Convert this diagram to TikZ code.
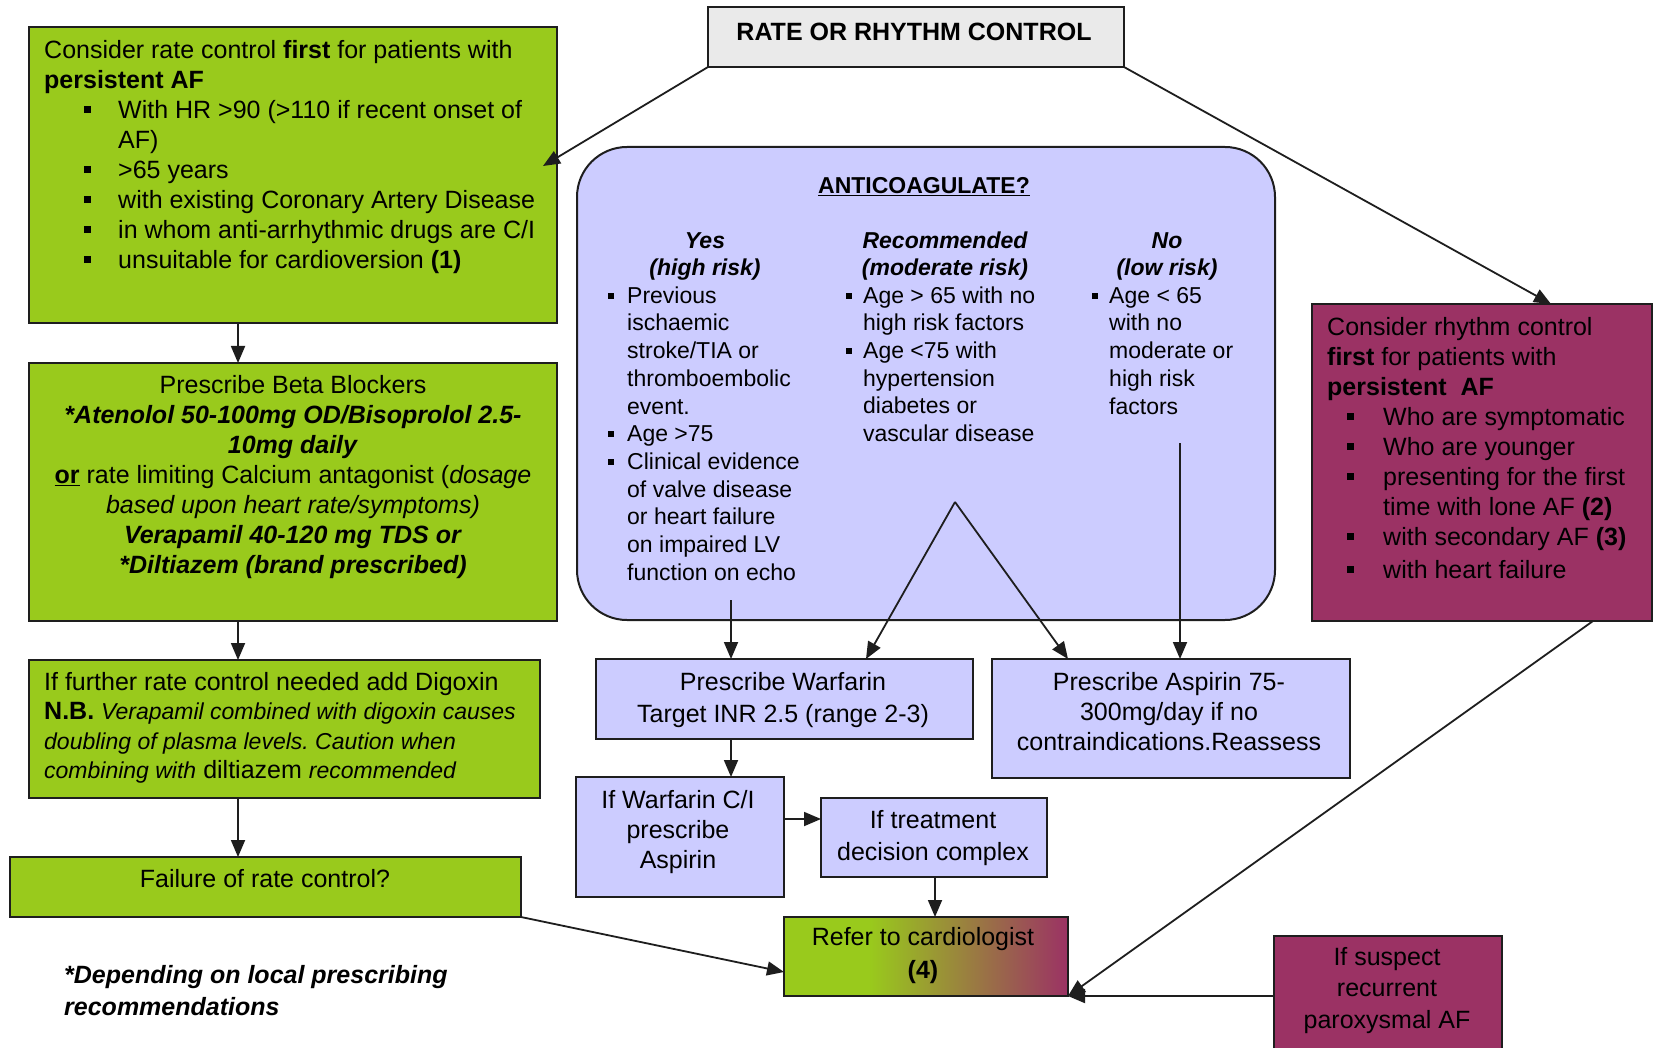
\documentclass[tikz,border=0pt]{standalone}
\usepackage{fontspec}
\setmainfont{Liberation Sans}
\usetikzlibrary{arrows.meta}
\frenchspacing
\definecolor{gfill}{RGB}{153,202,28}
\definecolor{pfill}{RGB}{155,50,100}
\definecolor{lfill}{RGB}{204,204,255}
\definecolor{tfill}{RGB}{234,234,234}
\definecolor{edge}{RGB}{30,30,30}
\pgfdeclarehorizontalshading{refshade}{100bp}{color(0bp)=(gfill); color(25bp)=(gfill); color(40bp)=(gfill); color(75bp)=(pfill); color(100bp)=(pfill)}
\newcommand\fl{\rule{0pt}{20pt}}
\newcommand\bA{\makebox[74pt][l]{\hspace*{40pt}\rule[5pt]{7pt}{7pt}}}
\newcommand\bP{\makebox[56pt][l]{\hspace*{20pt}\rule[5pt]{7pt}{7pt}}}
\newcommand\bL{\makebox[19pt][l]{\rule[4.5pt]{6pt}{6pt}}}
\newcommand\bM{\makebox[17pt][l]{\rule[4.5pt]{6pt}{6pt}}}
\newcommand\sit[1]{{\fontsize{23}{29.5}\selectfont\itshape #1}}
\tikzset{
  bx/.style={draw=edge, line width=2pt, inner sep=0pt, outer sep=0pt},
  gbox/.style={bx, fill=gfill},
  pbox/.style={bx, fill=pfill},
  lbox/.style={bx, fill=lfill},
  tx/.style={inner sep=0pt, align=left, font=\fontsize{25}{30}\selectfont},
  txc/.style={inner sep=0pt, align=center, font=\fontsize{25}{30}\selectfont},
  sm/.style={inner sep=0pt, align=left, font=\fontsize{23}{27.7}\selectfont},
  arr/.style={draw=edge, line width=1.8pt, -{Triangle[length=17pt,width=14pt]}},
}
\begin{document}
\begin{tikzpicture}[x=1pt,y=-1pt]
\useasboundingbox (0,0) rectangle (1654,1048);
\clip (0,0) rectangle (1654,1048);
\fill[white] (0,0) rectangle (1654,1048);
% boxes
\node[bx, fill=tfill, minimum width=416pt, minimum height=60pt] (title) at (916,37) {};
\node[gbox, minimum width=528pt, minimum height=296pt] (g1) at (293,175) {};
\node[gbox, minimum width=528pt, minimum height=258pt] (g2) at (293,492) {};
\node[gbox, minimum width=511pt, minimum height=138pt] (g3) at (284.5,729) {};
\node[gbox, minimum width=511pt, minimum height=60pt] (g4) at (265.5,887) {};
\node[lbox, rounded corners=50pt, minimum width=698pt, minimum height=473pt] (ac) at (926,383.5) {};
\node[lbox, minimum width=377pt, minimum height=80pt] (warf) at (784.5,699) {};
\node[lbox, minimum width=358pt, minimum height=119pt] (asp) at (1171,718.5) {};
\node[lbox, minimum width=208pt, minimum height=120pt] (ifw) at (680,837) {};
\node[lbox, minimum width=226pt, minimum height=79pt] (treat) at (934,837.5) {};
\node[bx, shading=refshade, minimum width=284pt, minimum height=79pt] (refer) at (926,956.5) {};
\node[pbox, minimum width=340pt, minimum height=317pt] (rhythm) at (1482,462.5) {};
\node[pbox, minimum width=228pt, minimum height=124pt] (sus) at (1388,998) {};
% texts
\node[txc, anchor=north, font=\bfseries\fontsize{25}{30}\selectfont] (titlet) at (914,20) {\fl RATE OR RHYTHM CONTROL};
\node[tx, anchor=north west] (g1t) at (44,38) {\fl Consider rate control \textbf{first} for patients with\\
\textbf{persistent AF}\\
\bA With HR >90 (>110 if recent onset of\\
\hspace*{74pt}AF)\\
\bA >65 years\\
\bA with existing Coronary Artery Disease\\
\bA in whom anti-arrhythmic drugs are C/I\\
\bA unsuitable for cardioversion \textbf{(1)}};
\node[txc, anchor=north] (g2t) at (293,373) {\fl Prescribe Beta Blockers\\
\textbf{\textit{*Atenolol 50-100mg OD/Bisoprolol 2.5-}}\\
\textbf{\textit{10mg daily}}\\
\underline{\textbf{or}} rate limiting Calcium antagonist (\textit{dosage}\\
\textit{based upon heart rate/symptoms)}\\
\textbf{\textit{Verapamil 40-120 mg TDS or}}\\
\textbf{\textit{*Diltiazem (brand prescribed)}}};
\node[tx, anchor=north west, font=\fontsize{25}{29.5}\selectfont] (g3t) at (44,670) {\fl If further rate control needed add Digoxin\\
\textbf{N.B.} \sit{Verapamil combined with digoxin causes}\\
\sit{doubling of plasma levels. Caution when}\\
\sit{combining with} diltiazem \sit{recommended}};
\node[txc, anchor=north] (g4t) at (265,867) {\fl Failure of rate control?};
\node[tx, anchor=north west, font=\bfseries\itshape\fontsize{25}{32}\selectfont] (foot) at (64,963) {\fl *Depending on local prescribing\\recommendations};
% anticoagulate box
\node[sm, anchor=north, font=\bfseries\fontsize{23}{27}\selectfont] (act) at (924,173) {\fl \underline{ANTICOAGULATE?}};
\node[sm, align=center, anchor=north, font=\bfseries\itshape\fontsize{23}{27}\selectfont] (h1) at (705,228) {\fl Yes\\(high risk)};
\node[sm, align=center, anchor=north, font=\bfseries\itshape\fontsize{23}{27}\selectfont] (h2) at (945,228) {\fl Recommended\\(moderate risk)};
\node[sm, align=center, anchor=north, font=\bfseries\itshape\fontsize{23}{27}\selectfont] (h3) at (1167,228) {\fl No\\(low risk)};
\node[sm, anchor=north west] (l1) at (608,283) {\fl\bL Previous\\
\hspace*{19pt}ischaemic\\
\hspace*{19pt}stroke/TIA or\\
\hspace*{19pt}thromboembolic\\
\hspace*{19pt}event.\\
\bL Age >75\\
\bL Clinical evidence\\
\hspace*{19pt}of valve disease\\
\hspace*{19pt}or heart failure\\
\hspace*{19pt}on impaired LV\\
\hspace*{19pt}function on echo};
\node[sm, anchor=north west] (l2) at (846,283) {\fl\bM Age > 65 with no\\
\hspace*{17pt}high risk factors\\
\bM Age <75 with\\
\hspace*{17pt}hypertension\\
\hspace*{17pt}diabetes or\\
\hspace*{17pt}vascular disease};
\node[sm, anchor=north west] (l3) at (1092,283) {\fl\bM Age < 65\\
\hspace*{17pt}with no\\
\hspace*{17pt}moderate or\\
\hspace*{17pt}high risk\\
\hspace*{17pt}factors};
% lower lavender boxes
\node[txc, anchor=north, font=\fontsize{25}{32}\selectfont] (warft) at (783,670) {\fl Prescribe Warfarin\\Target INR 2.5 (range 2-3)};
\node[txc, anchor=north] (aspt) at (1169,670) {\fl Prescribe Aspirin 75-\\300mg/day if no\\contraindications.Reassess};
\node[txc, anchor=north] (ifwt) at (678,788) {\fl If Warfarin C/I\\prescribe\\Aspirin};
\node[txc, anchor=north, font=\fontsize{25}{32}\selectfont] (treatt) at (933,808) {\fl If treatment\\decision complex};
\node[txc, anchor=north, font=\fontsize{25}{33}\selectfont] (refert) at (923,925) {\fl Refer to cardiologist\\\textbf{(4)}};
% purple boxes
\node[tx, anchor=north west, font=\fontsize{25}{30}\selectfont] (rhyt) at (1327,315) {\fl Consider rhythm control\\
\textbf{first} for patients with\\
\textbf{persistent\ \ AF}\\
\bP Who are symptomatic\\
\bP Who are younger\\
\bP presenting for the first\\
\hspace*{56pt}time with lone AF \textbf{(2)}\\
\bP with secondary AF \textbf{(3)}\\[3pt]
\bP with heart failure};
\node[txc, anchor=north, font=\fontsize{25}{31.5}\selectfont] (sust) at (1387,945) {\fl If suspect\\recurrent\\paroxysmal AF};
% coordinates
\coordinate (lx) at (238,0);
\coordinate (tipA) at (543,166);
\coordinate (rx) at (1551,0);
\coordinate (c1) at (731,600);
\coordinate (apex) at (955,502);
\coordinate (wl) at (866,0);
\coordinate (ar) at (1068,0);
\coordinate (c3) at (1180,443);
\coordinate (wx) at (731,0);
\coordinate (ty) at (0,819);
\coordinate (tx) at (935,0);
\coordinate (fy) at (0,972);
\coordinate (px) at (1593,0);
\coordinate (sy) at (0,996);
% connectors
\draw[arr] (title.south west) -- (tipA);
\draw[arr] (title.south east) -- (rhythm.north -| rx);
\draw[arr] (g1.south -| lx) -- (g2.north -| lx);
\draw[arr] (g2.south -| lx) -- (g3.north -| lx);
\draw[arr] (g3.south -| lx) -- (g4.north -| lx);
\draw[arr] (g4.south east) -- (refer.west |- fy);
\draw[arr] (c1) -- (warf.north -| c1);
\draw[arr] (apex) -- (warf.north -| wl);
\draw[arr] (apex) -- (asp.north -| ar);
\draw[arr] (c3) -- (asp.north -| c3);
\draw[arr] (warf.south -| wx) -- (ifw.north -| wx);
\draw[arr] (ifw.east |- ty) -- (treat.west |- ty);
\draw[arr] (treat.south -| tx) -- (refer.north -| tx);
\draw[arr] (rhythm.south -| px) -- (refer.south east);
\draw[arr] (sus.west |- sy) -- (refer.south east);
\end{tikzpicture}
\end{document}
